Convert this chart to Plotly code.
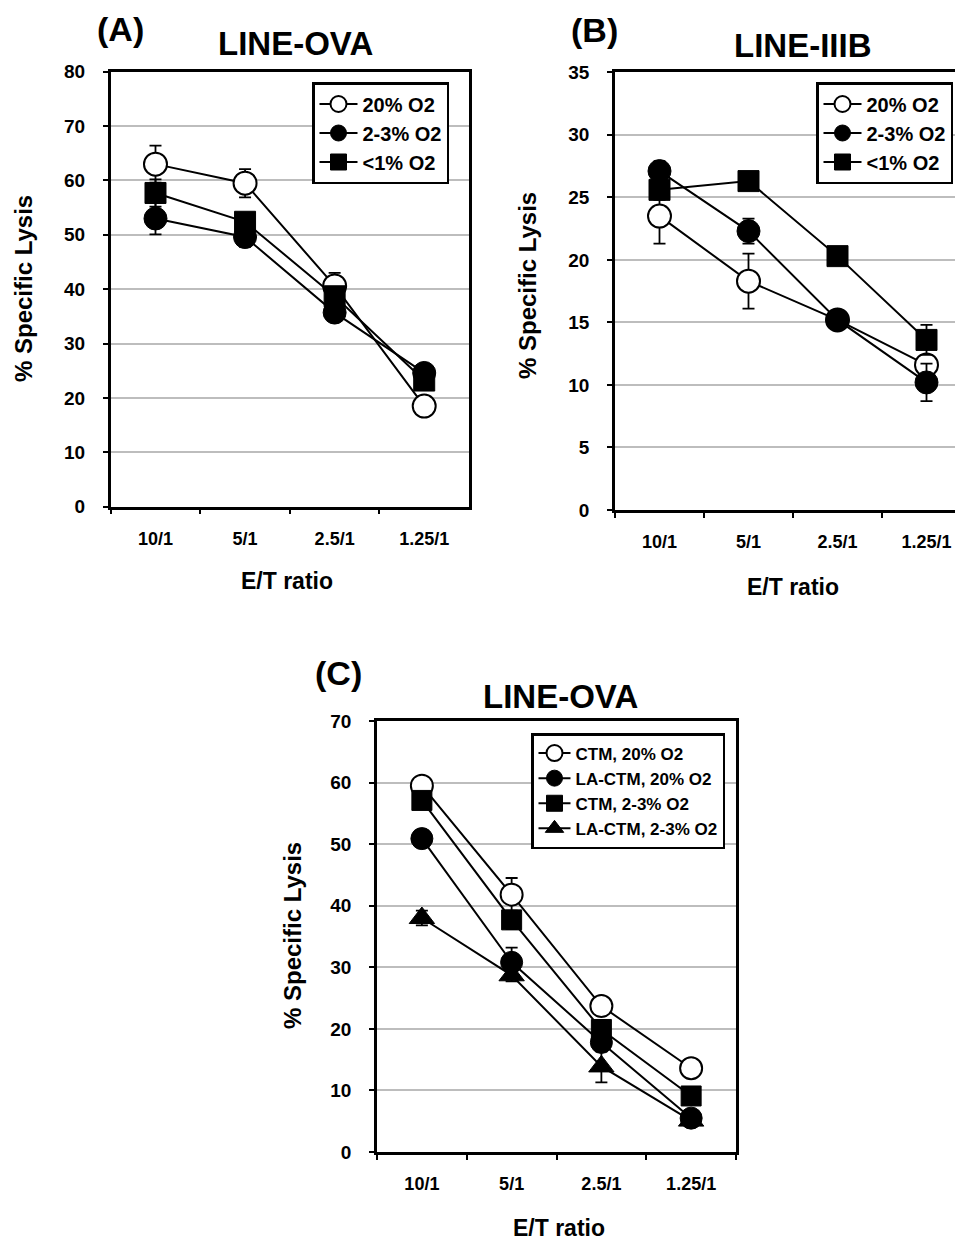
import plotly.graph_objects as go

# ---------------- data ----------------
ratios = ["10/1", "5/1", "2.5/1", "1.25/1"]

# Panel A: LINE-OVA
a_names = ["20% O2", "2-3% O2", "<1% O2"]
a_20 = [63.0, 59.5, 40.6, 18.5]
a_20_err = [3.4, 2.6, 2.4, 1.0]
a_23 = [53.0, 49.6, 35.7, 24.6]
a_23_err = [2.9, 1.8, 1.0, 1.0]
a_lt1 = [57.7, 52.4, 38.7, 23.2]
a_lt1_err = [2.5, 1.0, 1.5, 1.5]

# Panel B: LINE-IIIB
b_names = ["20% O2", "2-3% O2", "<1% O2"]
b_20 = [23.5, 18.3, 15.2, 11.6]
b_20_err = [2.2, 2.2, 0.5, 0.8]
b_23 = [27.1, 22.3, 15.2, 10.2]
b_23_err = [0.8, 1.0, 0.5, 1.5]
b_lt1 = [25.6, 26.3, 20.3, 13.6]
b_lt1_err = [0.8, 0.5, 0.5, 1.2]

# Panel C: LINE-OVA
c_names = ["CTM, 20% O2", "LA-CTM, 20% O2", "CTM, 2-3% O2", "LA-CTM, 2-3% O2"]
c_ctm20 = [59.5, 41.8, 23.7, 13.6]
c_ctm20_err = [0.8, 2.7, 1.0, 0.8]
c_la20 = [50.9, 30.8, 17.8, 5.5]
c_la20_err = [0.8, 2.4, 1.5, 0.8]
c_ctm23 = [57.1, 37.7, 19.9, 9.1]
c_ctm23_err = [0.8, 1.5, 1.5, 1.0]
c_la23 = [38.0, 28.7, 13.9, 5.1]
c_la23_err = [1.2, 1.0, 2.6, 0.8]

y_title = "% Specific Lysis"
x_title = "E/T ratio"

# ---------------- layout helpers ----------------
FONT = "Liberation Sans, Arial, sans-serif"
OFF = 8               # page body margin
W, H = 955, 1233


def fx(x):
    return (x - OFF) / W


def fy(y):
    return 1 - (y - OFF) / H


def f(size):
    return dict(family=FONT, size=size, color="black", weight="bold")


fig = go.Figure()

STY = {
    "open": dict(symbol="circle", color="white", line=dict(color="black", width=2)),
    "fill": dict(symbol="circle", color="black", line=dict(color="black", width=1)),
    "square": dict(symbol="square", color="black", line=dict(color="black", width=1)),
    "tri": dict(symbol="triangle-up", color="black", line=dict(color="black", width=1)),
}


def add(x_ax, y_ax, legend, name, vals, errs, sty, size):
    fig.add_trace(go.Scatter(
        x=ratios, y=vals, name=name, mode="lines+markers",
        xaxis=x_ax, yaxis=y_ax, legend=legend,
        line=dict(color="black", width=2),
        marker=dict(size=size, **STY[sty]),
        error_y=dict(type="data", array=errs, symmetric=True,
                     color="black", thickness=1.8, width=6),
    ))


add("x", "y", "legend", a_names[0], a_20, a_20_err, "open", 23)
add("x", "y", "legend", a_names[1], a_23, a_23_err, "fill", 23)
add("x", "y", "legend", a_names[2], a_lt1, a_lt1_err, "square", 21)

add("x2", "y2", "legend2", b_names[0], b_20, b_20_err, "open", 23)
add("x2", "y2", "legend2", b_names[1], b_23, b_23_err, "fill", 23)
add("x2", "y2", "legend2", b_names[2], b_lt1, b_lt1_err, "square", 21)

add("x3", "y3", "legend3", c_names[0], c_ctm20, c_ctm20_err, "open", 22)
add("x3", "y3", "legend3", c_names[1], c_la20, c_la20_err, "fill", 22)
add("x3", "y3", "legend3", c_names[2], c_ctm23, c_ctm23_err, "square", 20)
add("x3", "y3", "legend3", c_names[3], c_la23, c_la23_err, "tri", 22)


def xax(domain, rng, mirror=True):
    return dict(
        domain=domain, type="category", categoryorder="array",
        categoryarray=ratios, range=rng, showgrid=False, zeroline=False,
        showline=True, linecolor="black", linewidth=2.5, mirror=mirror,
        ticks="outside", ticklen=5, tickwidth=2, tickcolor="black",
        tickson="boundaries", tickfont=f(18), automargin=False,
        ticklabelstandoff=14, fixedrange=True,
    )


def yax(domain, rng, dtick, anchor, mirror=True):
    return dict(
        domain=domain, range=rng, dtick=dtick, tick0=0, anchor=anchor,
        showgrid=True, gridcolor="#bdbdbd", gridwidth=1.5, zeroline=False,
        showline=True, linecolor="black", linewidth=2.5, mirror=mirror,
        ticks="outside", ticklen=5, tickwidth=2, tickcolor="black",
        tickfont=f(19), automargin=False, ticklabelstandoff=14,
        fixedrange=True,
    )


# panel pixel boxes (screen coordinates)
A = dict(l=110.7, r=469.0, t=71.7, b=506.7)
B = dict(l=615.0, r=963.0, t=72.3, b=510.0)
C = dict(l=377.0, r=736.0, t=721.0, b=1152.0)

b_right = -0.5 + (B["r"] - B["l"]) / 89.0


def leg(x, y, size, iw):
    return dict(x=fx(x), y=fy(y), xanchor="left", yanchor="top",
                bordercolor="black", borderwidth=2.5, bgcolor="white",
                font=f(size), itemwidth=iw, tracegroupgap=0)


fig.update_layout(
    width=W, height=H, autosize=False,
    margin=dict(l=0, r=0, t=0, b=0, pad=0),
    paper_bgcolor="white", plot_bgcolor="white",
    font=f(18),
    xaxis=xax([fx(A["l"]), fx(A["r"])], [-0.5, 3.5]) | dict(anchor="y"),
    yaxis=yax([fy(A["b"]), fy(A["t"])], [0, 80], 10, "x"),
    xaxis2=xax([fx(B["l"]), 1.0], [-0.5, b_right]) | dict(anchor="y2"),
    yaxis2=yax([fy(B["b"]), fy(B["t"])], [0, 35], 5, "x2", mirror=False),
    xaxis3=xax([fx(C["l"]), fx(C["r"])], [-0.5, 3.5]) | dict(anchor="y3"),
    yaxis3=yax([fy(C["b"]), fy(C["t"])], [0, 70], 10, "x3"),
    legend=leg(312, 82, 20, 38),
    legend2=leg(816, 82, 20, 38),
    legend3=leg(531, 733, 17, 32),
    showlegend=True,
)

ann = [
    # panel letters
    ("(A)", 120, 29, 34, 0),
    ("(B)", 594, 30, 34, 0),
    ("(C)", 338, 673, 34, 0),
    # panel titles
    ("LINE-OVA", 295.5, 44, 33, 0),
    ("LINE-IIIB", 802.5, 45, 33, 0),
    ("LINE-OVA", 560.7, 697, 33, 0),
    # axis titles
    (x_title, 286.5, 581, 23, 0),
    (x_title, 793, 587, 23, 0),
    (x_title, 559, 1228, 23, 0),
    (y_title, 23, 289, 24, -90),
    (y_title, 527, 286, 24, -90),
    (y_title, 292, 936, 24, -90),
]
for text, x, y, size, ang in ann:
    fig.add_annotation(text=text, x=fx(x), y=fy(y), xref="paper", yref="paper",
                       xanchor="center", yanchor="middle", showarrow=False,
                       textangle=ang, font=f(size))

fig.write_html("out.html")
